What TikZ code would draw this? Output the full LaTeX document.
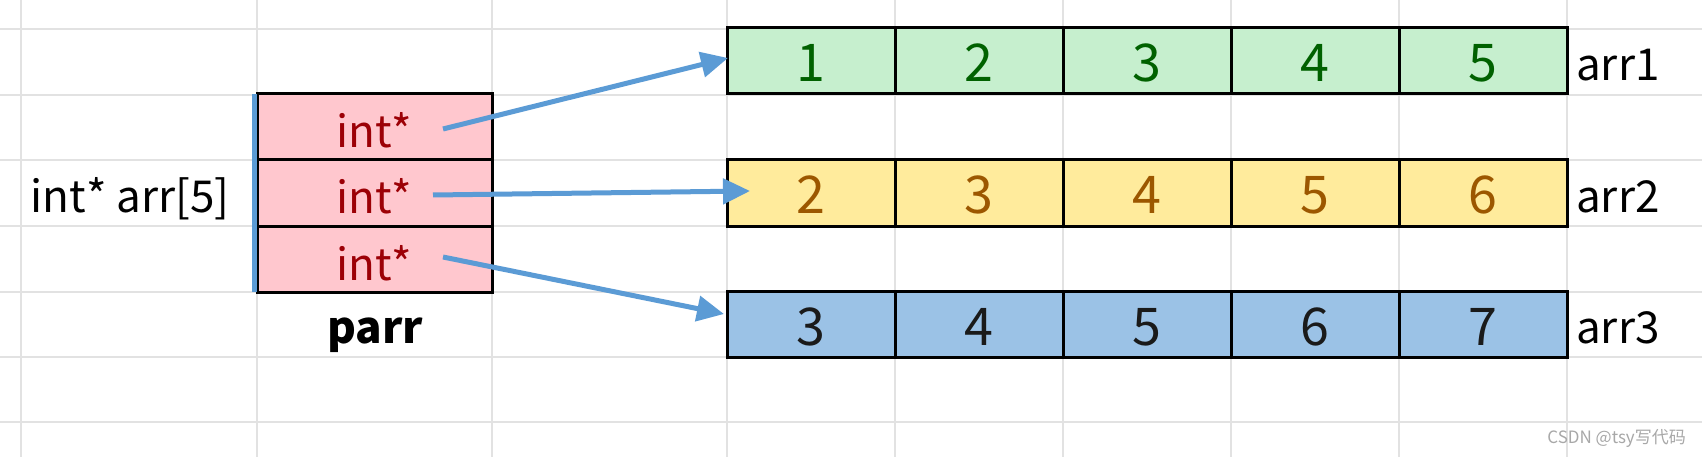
\documentclass[tikz,border=0pt]{standalone}
\usepackage{fontspec}
\setmainfont{Noto Sans CJK SC}
\usetikzlibrary{arrows.meta}
\definecolor{gridc}{HTML}{E2E2E2}
\definecolor{goodfill}{HTML}{C6EFCE}
\definecolor{goodtext}{HTML}{006100}
\definecolor{neutfill}{HTML}{FFEB9C}
\definecolor{neuttext}{HTML}{9C5700}
\definecolor{badfill}{HTML}{FFC7CE}
\definecolor{badtext}{HTML}{9C0006}
\definecolor{bluefill}{HTML}{9BC2E6}
\definecolor{bluetext}{HTML}{1A1A1A}
\definecolor{arrowc}{HTML}{5B9BD5}
\definecolor{wmark}{HTML}{A8A8A8}
\tikzset{
  cellbox/.style={draw=black, line width=3pt, minimum width=168pt, minimum height=66pt, inner sep=0pt, text height=42pt, text depth=0pt, font=\fontsize{52}{54}\selectfont},
  goodcell/.style={cellbox, fill=goodfill, text=goodtext},
  neutcell/.style={cellbox, fill=neutfill, text=neuttext},
  bluecell/.style={cellbox, fill=bluefill, text=bluetext},
  ptrcell/.style={cellbox, minimum width=235pt, fill=badfill, text=badtext, font=\fontsize{44}{46}\selectfont},
  lbl/.style={inner sep=0pt, font=\fontsize{44}{46}\selectfont, text=black},
  ptrarrow/.style={draw=arrowc, line width=5pt, -{Triangle[length=27pt,width=25pt]}},
}
\begin{document}
\begin{tikzpicture}[x=1pt,y=-1pt]
\useasboundingbox (0,0) rectangle (1702,457);
\fill[white] (0,0) rectangle (1702,457);
% grid
\foreach \yy in {29,95,160,226,292,357,422}
  \draw[gridc, line width=2pt] (0,\yy) -- (1702,\yy);
\foreach \xx in {21,257,492,727,895,1063,1231,1399,1567}
  \draw[gridc, line width=2pt] (\xx,0) -- (\xx,457);
% pointer array
\node[ptrcell] (p1) at (374.5,126.5) {int*};
\node[ptrcell] (p2) at (374.5,193) {int*};
\node[ptrcell] (p3) at (374.5,259) {int*};
\draw[arrowc, line width=5pt] ([xshift=-1pt,yshift=-2pt]p1.north west) coordinate (bl1) -- ([xshift=-1pt,yshift=2pt]p3.south west) coordinate (bl2);
\node[lbl, anchor=base] (decl) at (130,212) {int* arr[5]};
\node[lbl, anchor=base, font=\fontsize{44}{46}\selectfont\bfseries] (pname) at (375,343) {parr};
% arrays
\foreach \v [count=\i] in {1,2,3,4,5}
  \node[goodcell] (a\i) at (643+168*\i,61) {\v};
\foreach \v [count=\i] in {2,3,4,5,6}
  \node[neutcell] (b\i) at (643+168*\i,193) {\v};
\foreach \v [count=\i] in {3,4,5,6,7}
  \node[bluecell] (c\i) at (643+168*\i,324.5) {\v};
\node[lbl, anchor=base west] (n1) at (1576,81) {arr1};
\node[lbl, anchor=base west] (n2) at (1576,213) {arr2};
\node[lbl, anchor=base west] (n3) at (1576,343) {arr3};
% arrows
\coordinate (s1) at (443,129);
\coordinate (t1) at (728,58);
\coordinate (s2) at (433,195);
\coordinate (t2) at (750,191);
\coordinate (s3) at (443,257);
\coordinate (t3) at (724,314);
\draw[ptrarrow] (s1) -- (t1);
\draw[ptrarrow] (s2) -- (t2);
\draw[ptrarrow] (s3) -- (t3);
% watermark
\node[inner sep=0pt, anchor=east, text=wmark, font=\fontsize{17}{18}\selectfont] (wm) at (1686,438) {CSDN @tsy写代码};
\end{tikzpicture}
\end{document}
